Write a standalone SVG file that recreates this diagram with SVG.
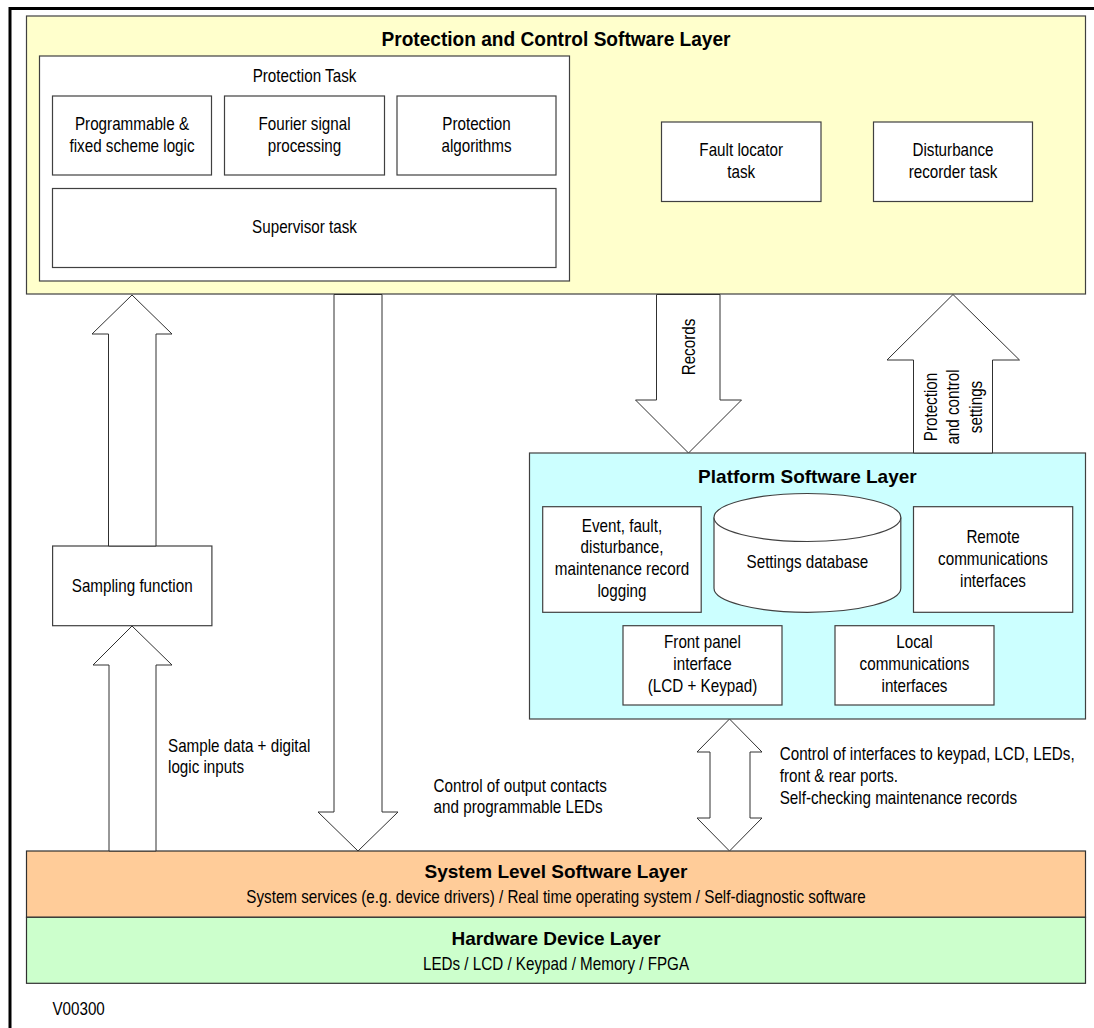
<svg xmlns="http://www.w3.org/2000/svg" width="1094" height="1028" viewBox="0 0 1094 1028">
<style>
.box{fill:#fff;stroke:#404040;stroke-width:1.2}
.arr{fill:#fff;stroke:#303030;stroke-width:1}
.t{font-family:"Liberation Sans",Arial,sans-serif;font-size:18px;fill:#000;text-anchor:middle}
.s{text-anchor:start}
.b{font-weight:bold;font-size:19px}
</style>
<rect x="0" y="0" width="1094" height="1028" fill="#fff"/>
<path d="M10,1028 V8.5 H1094" fill="none" stroke="#000" stroke-width="3"/>

<g id="layer-protection">
<rect x="26.5" y="16" width="1059" height="278" fill="#FFFFCC" stroke="#404040" stroke-width="1.2"/>
<text class="t b" transform="translate(556,46) scale(0.91,1)" style="font-size:21px">Protection and Control Software Layer</text>
</g>
<g id="protection-task">
<rect class="box" x="39.5" y="56" width="530" height="225"/>
<text class="t" transform="translate(304.5,82) scale(0.845,1)">Protection Task</text>
</g>
<g id="scheme-logic">
<rect class="box" x="52.5" y="96" width="159" height="79"/>
<text class="t" transform="translate(132,130) scale(0.845,1)"><tspan x="0">Programmable &amp;</tspan><tspan x="0" dy="21.7">fixed scheme logic</tspan></text>
</g>
<g id="fourier">
<rect class="box" x="224.5" y="96" width="160" height="79"/>
<text class="t" transform="translate(304.5,130) scale(0.845,1)"><tspan x="0">Fourier signal</tspan><tspan x="0" dy="21.7">processing</tspan></text>
</g>
<g id="algorithms">
<rect class="box" x="397" y="96" width="159" height="79"/>
<text class="t" transform="translate(476.5,130) scale(0.845,1)"><tspan x="0">Protection</tspan><tspan x="0" dy="21.7">algorithms</tspan></text>
</g>
<g id="supervisor">
<rect class="box" x="52.5" y="188.5" width="503.5" height="79"/>
<text class="t" transform="translate(304.5,233.3) scale(0.845,1)">Supervisor task</text>
</g>
<g id="fault-locator">
<rect class="box" x="661.5" y="122" width="159.5" height="79.5"/>
<text class="t" transform="translate(741.2,156) scale(0.845,1)"><tspan x="0">Fault locator</tspan><tspan x="0" dy="22">task</tspan></text>
</g>
<g id="disturbance-recorder">
<rect class="box" x="873.5" y="122" width="159" height="79.5"/>
<text class="t" transform="translate(953,156) scale(0.845,1)"><tspan x="0">Disturbance</tspan><tspan x="0" dy="22">recorder task</tspan></text>
</g>

<g id="layer-platform">
<rect x="529.5" y="453" width="556" height="266" fill="#CCFFFF" stroke="#404040" stroke-width="1.2"/>
<text class="t b" x="807.4" y="483.3">Platform Software Layer</text>
</g>
<g id="record-logging">
<rect class="box" x="542.7" y="506.7" width="158.5" height="105.6"/>
<text class="t" transform="translate(622,531.7) scale(0.845,1)"><tspan x="0">Event, fault,</tspan><tspan x="0" dy="21.8">disturbance,</tspan><tspan x="0" dy="21.8">maintenance record</tspan><tspan x="0" dy="21.8">logging</tspan></text>
</g>
<g id="settings-database">
<path d="M714,517.5 V588.3 A93.4,24 0 0 0 900.8,588.3 V517.5" fill="#fff" stroke="#404040" stroke-width="1.2"/>
<ellipse cx="807.4" cy="517.5" rx="93.4" ry="24" fill="#fff" stroke="#404040" stroke-width="1.2"/>
<text class="t" transform="translate(807.4,568.3) scale(0.845,1)">Settings database</text>
</g>
<g id="remote-comms">
<rect class="box" x="913.5" y="506.7" width="159.2" height="105.6"/>
<text class="t" transform="translate(993,543.3) scale(0.845,1)"><tspan x="0">Remote</tspan><tspan x="0" dy="21.7">communications</tspan><tspan x="0" dy="21.7">interfaces</tspan></text>
</g>
<g id="front-panel">
<rect class="box" x="623" y="625.7" width="159" height="79.3"/>
<text class="t" transform="translate(702.5,648.3) scale(0.845,1)"><tspan x="0">Front panel</tspan><tspan x="0" dy="21.7">interface</tspan><tspan x="0" dy="21.7">(LCD + Keypad)</tspan></text>
</g>
<g id="local-comms">
<rect class="box" x="835" y="625.7" width="159" height="79.3"/>
<text class="t" transform="translate(914.5,648.3) scale(0.845,1)"><tspan x="0">Local</tspan><tspan x="0" dy="21.7">communications</tspan><tspan x="0" dy="21.7">interfaces</tspan></text>
</g>

<g id="sampling-function">
<rect class="box" x="52.6" y="546" width="159.3" height="79.7"/>
<text class="t" transform="translate(132.2,591.7) scale(0.845,1)">Sampling function</text>
</g>

<g id="layer-system">
<rect x="26.5" y="851" width="1059" height="66.3" fill="#FFCC99" stroke="#303030" stroke-width="1.2"/>
<text class="t b" x="556" y="878.3">System Level Software Layer</text>
<text class="t" transform="translate(556,903.3) scale(0.845,1)">System services (e.g. device drivers) / Real time operating system / Self-diagnostic software</text>
</g>
<g id="layer-hardware">
<rect x="26.5" y="917.3" width="1059" height="66" fill="#CCFFCC" stroke="#303030" stroke-width="1.2"/>
<text class="t b" x="556" y="945">Hardware Device Layer</text>
<text class="t" transform="translate(556,970) scale(0.845,1)">LEDs / LCD / Keypad / Memory / FPGA</text>
</g>

<g id="connectors">
<polygon class="arr" points="132,295 172,334 156,334 156,546 108.5,546 108.5,334 92,334"/>
<polygon class="arr" points="132,626 172,665 156,665 156,851 109,851 109,665 93,665"/>
<polygon class="arr" points="334,294.5 382,294.5 382,812 398,812 358,851 318,812 334,812"/>
<polygon class="arr" points="656.5,294.5 720,294.5 720,400 741.5,400 688.5,453 635.5,400 656.5,400"/>
<polygon class="arr" points="953,294.5 1019.5,360 992.5,360 992.5,453 913.5,453 913.5,360 887,360"/>
<polygon class="arr" points="729.5,719 762,752 750,752 750,818 762,818 729.5,851 697,818 710,818 710,752 697,752"/>
<text class="t" transform="translate(695,347) rotate(-90) scale(0.845,1)">Records</text>
<text class="t" transform="translate(937,407) rotate(-90) scale(0.845,1)"><tspan x="0">Protection</tspan><tspan x="0" dy="22.5">and control</tspan><tspan x="0" dy="22.5">settings</tspan></text>
<text class="t s" transform="translate(168,751.7) scale(0.845,1)"><tspan x="0">Sample data + digital</tspan><tspan x="0" dy="21.6">logic inputs</tspan></text>
<text class="t s" transform="translate(433.6,791.7) scale(0.845,1)"><tspan x="0">Control of output contacts</tspan><tspan x="0" dy="21.6">and programmable LEDs</tspan></text>
<text class="t s" transform="translate(779.7,760) scale(0.845,1)"><tspan x="0">Control of interfaces to keypad, LCD, LEDs,</tspan><tspan x="0" dy="22">front &amp; rear ports.</tspan><tspan x="0" dy="22">Self-checking maintenance records</tspan></text>
</g>

<text class="t s" transform="translate(52.4,1015) scale(0.845,1)">V00300</text>
</svg>
